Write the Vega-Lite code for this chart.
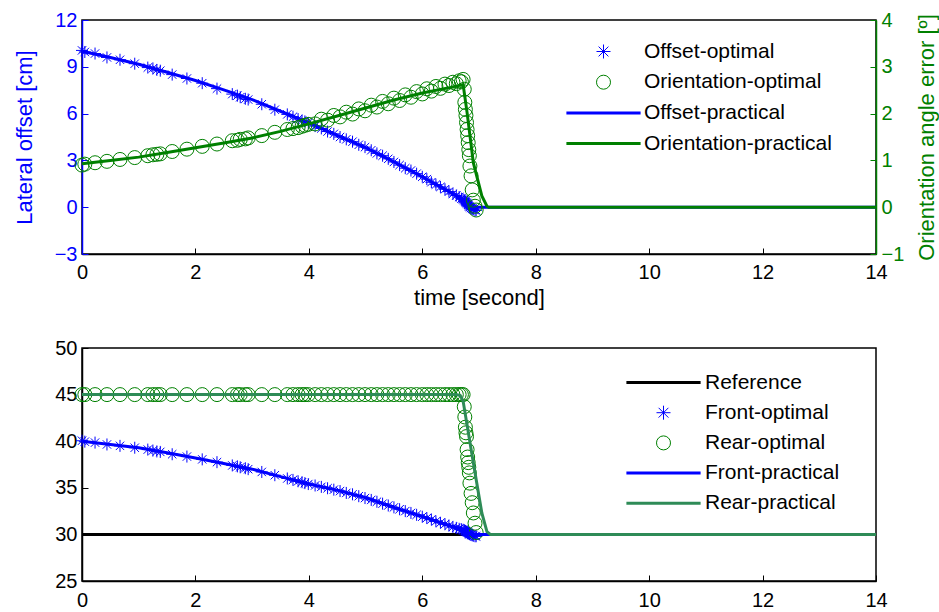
{
  "$schema": "https://vega.github.io/schema/vega-lite/v6.json",
  "padding": {"left": 12, "top": 9, "right": 0, "bottom": 0},
  "spacing": 28,
  "datasets": {
    "opt": [
      {"t": 0, "off": 10.05, "ang": 0.9, "front": 40.05, "rear": 45},
      {"t": 0.05, "off": 9.95, "ang": 0.92, "front": 39.95, "rear": 45},
      {"t": 0.23, "off": 9.85, "ang": 0.95, "front": 39.85, "rear": 45},
      {"t": 0.44, "off": 9.6, "ang": 0.98, "front": 39.65, "rear": 45},
      {"t": 0.67, "off": 9.45, "ang": 1.02, "front": 39.5, "rear": 45},
      {"t": 0.93, "off": 9.2, "ang": 1.06, "front": 39.3, "rear": 45},
      {"t": 1.16, "off": 8.95, "ang": 1.1, "front": 39.1, "rear": 45},
      {"t": 1.25, "off": 8.9, "ang": 1.12, "front": 39.0, "rear": 45},
      {"t": 1.32, "off": 8.8, "ang": 1.13, "front": 38.9, "rear": 45},
      {"t": 1.38, "off": 8.75, "ang": 1.14, "front": 38.85, "rear": 45},
      {"t": 1.59, "off": 8.5, "ang": 1.19, "front": 38.6, "rear": 45},
      {"t": 1.85, "off": 8.25, "ang": 1.24, "front": 38.35, "rear": 45},
      {"t": 2.12, "off": 7.95, "ang": 1.3, "front": 38.05, "rear": 45},
      {"t": 2.38, "off": 7.6, "ang": 1.35, "front": 37.75, "rear": 45},
      {"t": 2.65, "off": 7.25, "ang": 1.42, "front": 37.4, "rear": 45},
      {"t": 2.74, "off": 7.15, "ang": 1.43, "front": 37.3, "rear": 45},
      {"t": 2.79, "off": 7.05, "ang": 1.45, "front": 37.2, "rear": 45},
      {"t": 2.88, "off": 6.95, "ang": 1.46, "front": 37.1, "rear": 45},
      {"t": 2.93, "off": 6.9, "ang": 1.48, "front": 37.0, "rear": 45},
      {"t": 3.17, "off": 6.6, "ang": 1.53, "front": 36.7, "rear": 45},
      {"t": 3.4, "off": 6.25, "ang": 1.6, "front": 36.35, "rear": 45},
      {"t": 3.62, "off": 5.95, "ang": 1.66, "front": 36.0, "rear": 45},
      {"t": 3.72, "off": 5.8, "ang": 1.68, "front": 35.85, "rear": 45},
      {"t": 3.81, "off": 5.65, "ang": 1.7, "front": 35.7, "rear": 45},
      {"t": 3.88, "off": 5.55, "ang": 1.73, "front": 35.6, "rear": 45},
      {"t": 3.93, "off": 5.5, "ang": 1.75, "front": 35.5, "rear": 45},
      {"t": 3.99, "off": 5.4, "ang": 1.77, "front": 35.4, "rear": 45},
      {"t": 4.11, "off": 5.2, "ang": 1.78, "front": 35.25, "rear": 45},
      {"t": 4.22, "off": 5.05, "ang": 1.88, "front": 35.1, "rear": 45},
      {"t": 4.33, "off": 4.85, "ang": 1.86, "front": 34.95, "rear": 45},
      {"t": 4.44, "off": 4.7, "ang": 1.96, "front": 34.8, "rear": 45},
      {"t": 4.55, "off": 4.5, "ang": 1.93, "front": 34.65, "rear": 45},
      {"t": 4.66, "off": 4.35, "ang": 2.03, "front": 34.45, "rear": 45},
      {"t": 4.77, "off": 4.2, "ang": 1.99, "front": 34.3, "rear": 45},
      {"t": 4.88, "off": 4.0, "ang": 2.1, "front": 34.1, "rear": 45},
      {"t": 4.99, "off": 3.85, "ang": 2.06, "front": 33.9, "rear": 45},
      {"t": 5.1, "off": 3.65, "ang": 2.18, "front": 33.7, "rear": 45},
      {"t": 5.2, "off": 3.45, "ang": 2.14, "front": 33.5, "rear": 45},
      {"t": 5.3, "off": 3.3, "ang": 2.26, "front": 33.3, "rear": 45},
      {"t": 5.4, "off": 3.1, "ang": 2.21, "front": 33.1, "rear": 45},
      {"t": 5.5, "off": 2.9, "ang": 2.33, "front": 32.9, "rear": 45},
      {"t": 5.6, "off": 2.7, "ang": 2.28, "front": 32.7, "rear": 45},
      {"t": 5.7, "off": 2.5, "ang": 2.4, "front": 32.5, "rear": 45},
      {"t": 5.8, "off": 2.35, "ang": 2.35, "front": 32.3, "rear": 45},
      {"t": 5.9, "off": 2.15, "ang": 2.47, "front": 32.1, "rear": 45},
      {"t": 6.0, "off": 1.95, "ang": 2.42, "front": 31.9, "rear": 45},
      {"t": 6.08, "off": 1.8, "ang": 2.53, "front": 31.75, "rear": 45},
      {"t": 6.16, "off": 1.6, "ang": 2.48, "front": 31.6, "rear": 45},
      {"t": 6.24, "off": 1.45, "ang": 2.58, "front": 31.4, "rear": 45},
      {"t": 6.32, "off": 1.3, "ang": 2.54, "front": 31.25, "rear": 45},
      {"t": 6.4, "off": 1.15, "ang": 2.63, "front": 31.1, "rear": 45},
      {"t": 6.47, "off": 1.0, "ang": 2.6, "front": 30.95, "rear": 45},
      {"t": 6.54, "off": 0.85, "ang": 2.67, "front": 30.8, "rear": 45},
      {"t": 6.6, "off": 0.75, "ang": 2.64, "front": 30.7, "rear": 45},
      {"t": 6.65, "off": 0.65, "ang": 2.7, "front": 30.6, "rear": 45},
      {"t": 6.69, "off": 0.55, "ang": 2.68, "front": 30.55, "rear": 45},
      {"t": 6.72, "off": 0.5, "ang": 2.73, "front": 30.5, "rear": 45},
      {"t": 6.74, "off": 0.45, "ang": 2.52, "front": 30.45, "rear": 43.7},
      {"t": 6.75, "off": 0.4, "ang": 2.24, "front": 30.4, "rear": 42.6},
      {"t": 6.76, "off": 0.36, "ang": 2.09, "front": 30.35, "rear": 41.5},
      {"t": 6.77, "off": 0.32, "ang": 1.96, "front": 30.3, "rear": 40.9},
      {"t": 6.78, "off": 0.28, "ang": 1.81, "front": 30.28, "rear": 40.5},
      {"t": 6.79, "off": 0.25, "ang": 1.66, "front": 30.25, "rear": 39.1},
      {"t": 6.8, "off": 0.2, "ang": 1.53, "front": 30.2, "rear": 38.3},
      {"t": 6.81, "off": 0.15, "ang": 1.38, "front": 30.15, "rear": 37.7},
      {"t": 6.82, "off": 0.1, "ang": 1.23, "front": 30.1, "rear": 37.2},
      {"t": 6.83, "off": 0.05, "ang": 1.1, "front": 30.05, "rear": 36.6},
      {"t": 6.84, "off": 0.0, "ang": 0.88, "front": 30.0, "rear": 35.5},
      {"t": 6.86, "off": -0.05, "ang": 0.67, "front": 29.95, "rear": 34.4},
      {"t": 6.88, "off": -0.1, "ang": 0.37, "front": 29.9, "rear": 33.4},
      {"t": 6.9, "off": -0.15, "ang": 0.15, "front": 29.85, "rear": 32.3},
      {"t": 6.93, "off": -0.2, "ang": 0.02, "front": 29.8, "rear": 31.2},
      {"t": 6.95, "off": -0.2, "ang": -0.06, "front": 29.8, "rear": 30.2}
    ],
    "offP": [
      {"t": 0, "v": 10.0}, {"t": 0.5, "v": 9.6}, {"t": 1, "v": 9.16}, {"t": 1.5, "v": 8.65},
      {"t": 2, "v": 8.12}, {"t": 2.5, "v": 7.52}, {"t": 3, "v": 6.9}, {"t": 3.5, "v": 6.15},
      {"t": 4, "v": 5.4}, {"t": 4.5, "v": 4.6}, {"t": 5, "v": 3.82}, {"t": 5.5, "v": 2.9},
      {"t": 6, "v": 1.95}, {"t": 6.5, "v": 0.95}, {"t": 6.79, "v": 0.26}, {"t": 6.86, "v": 0},
      {"t": 14, "v": 0}
    ],
    "angP": [
      {"t": 0, "v": 0.93}, {"t": 0.5, "v": 1.0}, {"t": 1, "v": 1.07}, {"t": 1.5, "v": 1.17},
      {"t": 2, "v": 1.27}, {"t": 2.5, "v": 1.37}, {"t": 3, "v": 1.48}, {"t": 3.5, "v": 1.62},
      {"t": 4, "v": 1.78}, {"t": 4.5, "v": 1.95}, {"t": 5, "v": 2.12}, {"t": 5.5, "v": 2.29},
      {"t": 6, "v": 2.44}, {"t": 6.5, "v": 2.56}, {"t": 6.72, "v": 2.62}, {"t": 6.79, "v": 2.02},
      {"t": 6.9, "v": 0.95}, {"t": 7.05, "v": 0.24}, {"t": 7.14, "v": 0.02}, {"t": 7.17, "v": 0},
      {"t": 14, "v": 0}
    ],
    "frontP": [
      {"t": 0, "v": 40}, {"t": 0.5, "v": 39.65}, {"t": 1, "v": 39.3}, {"t": 1.5, "v": 38.75},
      {"t": 2, "v": 38.2}, {"t": 2.5, "v": 37.6}, {"t": 3, "v": 37.0}, {"t": 3.5, "v": 36.2},
      {"t": 4, "v": 35.4}, {"t": 4.5, "v": 34.75}, {"t": 5, "v": 33.95}, {"t": 5.5, "v": 32.9},
      {"t": 6, "v": 31.9}, {"t": 6.5, "v": 30.9}, {"t": 6.79, "v": 30.3}, {"t": 6.86, "v": 30},
      {"t": 14, "v": 30}
    ],
    "rearP": [
      {"t": 0, "v": 45}, {"t": 6.6, "v": 45}, {"t": 6.67, "v": 44.9}, {"t": 6.72, "v": 44.3},
      {"t": 6.9, "v": 37.7}, {"t": 7.05, "v": 32.3}, {"t": 7.14, "v": 30.3}, {"t": 7.2, "v": 30},
      {"t": 14, "v": 30}
    ],
    "refP": [{"t": 0, "v": 30}, {"t": 14, "v": 30}]
  },
  "vconcat": [
    {
      "width": 794,
      "height": 234,
      "layer": [
        {
          "encoding": {
            "x": {"field": "t", "type": "quantitative", "scale": {"domain": [0, 14], "nice": false},
              "axis": {"title": "time [second]", "values": [0, 2, 4, 6, 8, 10, 12, 14], "format": "d", "labelFlush": false, "tickSize": -6, "labelPadding": 14, "titlePadding": 5}},
            "y": {"field": "off", "type": "quantitative", "scale": {"domain": [-3, 12], "nice": false},
              "axis": {"title": "Lateral offset [cm]", "orient": "left", "values": [-3, 0, 3, 6, 9, 12], "labelColor": "#0000ff", "titleColor": "#0000ff", "domainColor": "#0000ff", "tickColor": "#0000ff", "tickSize": -6, "labelPadding": 11, "titlePadding": 18}}
          },
          "layer": [
            {
              "data": {"name": "opt"},
              "mark": {"type": "point", "filled": false, "size": 144, "strokeWidth": 1, "opacity": 1},
              "encoding": {
                "color": {"datum": "Offset-optimal",
                  "scale": {"domain": ["Offset-optimal", "Orientation-optimal", "Offset-practical", "Orientation-practical"], "range": ["#0000ff", "#008000", "#0000ff", "#008000"]},
                  "legend": {"title": null, "orient": "none", "legendX": 511, "legendY": 21, "labelOffset": 30, "rowPadding": 8.7, "symbolSize": 196, "labelFontSize": 21, "labelColor": "black", "labelLimit": 400,
                    "encode": {"symbols": {"update": {"strokeWidth": {"signal": "indexof(['Offset-practical','Orientation-practical'], datum.value) >= 0 ? 3 : 1"}, "fill": {"value": "transparent"}, "size": {"value": 196}}}}}},
                "shape": {"datum": "Offset-optimal",
                  "scale": {"domain": ["Offset-optimal", "Orientation-optimal", "Offset-practical", "Orientation-practical"], "range": ["M-1,0L1,0M0,-1L0,1M-0.7,-0.7L0.7,0.7M-0.7,0.7L0.7,-0.7", "circle", "M-5.3,0L5.3,0", "M-5.3,0L5.3,0"]},
                  "legend": {"title": null, "orient": "none", "legendX": 511, "legendY": 21, "labelOffset": 30, "rowPadding": 8.7, "symbolSize": 196, "labelFontSize": 21, "labelColor": "black", "labelLimit": 400,
                    "encode": {"symbols": {"update": {"strokeWidth": {"signal": "indexof(['Offset-practical','Orientation-practical'], datum.value) >= 0 ? 3 : 1"}, "fill": {"value": "transparent"}, "size": {"value": 196}}}}}}
              }
            },
            {
              "data": {"name": "offP"},
              "mark": {"type": "line", "strokeWidth": 3},
              "encoding": {
                "y": {"field": "v", "type": "quantitative"},
                "color": {"datum": "Offset-practical",
                  "legend": {"title": null, "orient": "none", "legendX": 511, "legendY": 21, "labelOffset": 30, "rowPadding": 8.7, "symbolSize": 196, "labelFontSize": 21, "labelColor": "black", "labelLimit": 400,
                    "encode": {"symbols": {"update": {"strokeWidth": {"signal": "indexof(['Offset-practical','Orientation-practical'], datum.value) >= 0 ? 3 : 1"}, "fill": {"value": "transparent"}, "size": {"value": 196}}}}}}
              }
            }
          ]
        },
        {
          "encoding": {
            "x": {"field": "t", "type": "quantitative", "scale": {"domain": [0, 14], "nice": false}},
            "y": {"field": "ang", "type": "quantitative", "scale": {"domain": [-1, 4], "nice": false},
              "axis": {"title": "Orientation angle error [º]", "orient": "right", "titleAngle": 270, "titleBaseline": "top", "values": [-1, 0, 1, 2, 3, 4], "labelColor": "#008000", "titleColor": "#008000", "domainColor": "#008000", "tickColor": "#008000", "tickSize": -6, "labelPadding": 11, "titlePadding": 13}}
          },
          "layer": [
            {
              "data": {"name": "opt"},
              "mark": {"type": "point", "filled": false, "size": 196, "strokeWidth": 1, "opacity": 1},
              "encoding": {
                "color": {"datum": "Orientation-optimal",
                  "legend": {"title": null, "orient": "none", "legendX": 511, "legendY": 21, "labelOffset": 30, "rowPadding": 8.7, "symbolSize": 196, "labelFontSize": 21, "labelColor": "black", "labelLimit": 400,
                    "encode": {"symbols": {"update": {"strokeWidth": {"signal": "indexof(['Offset-practical','Orientation-practical'], datum.value) >= 0 ? 3 : 1"}, "fill": {"value": "transparent"}, "size": {"value": 196}}}}}},
                "shape": {"datum": "Orientation-optimal"}
              }
            },
            {
              "data": {"name": "angP"},
              "mark": {"type": "line", "strokeWidth": 3},
              "encoding": {
                "y": {"field": "v", "type": "quantitative"},
                "color": {"datum": "Orientation-practical",
                  "legend": {"title": null, "orient": "none", "legendX": 511, "legendY": 21, "labelOffset": 30, "rowPadding": 8.7, "symbolSize": 196, "labelFontSize": 21, "labelColor": "black", "labelLimit": 400,
                    "encode": {"symbols": {"update": {"strokeWidth": {"signal": "indexof(['Offset-practical','Orientation-practical'], datum.value) >= 0 ? 3 : 1"}, "fill": {"value": "transparent"}, "size": {"value": 196}}}}}}
              }
            }
          ]
        }
      ],
      "resolve": {"scale": {"y": "independent"}}
    },
    {
      "width": 794,
      "height": 233,
      "encoding": {
        "x": {"field": "t", "type": "quantitative", "scale": {"domain": [0, 14], "nice": false},
          "axis": {"title": null, "values": [0, 2, 4, 6, 8, 10, 12, 14], "format": "d", "labelFlush": false, "tickSize": -6, "labelPadding": 15}},
        "y": {"type": "quantitative", "scale": {"domain": [25, 50], "nice": false},
          "axis": {"title": null, "values": [25, 30, 35, 40, 45, 50], "tickSize": -6, "labelPadding": 11}}
      },
      "layer": [
        {
          "data": {"name": "refP"},
          "mark": {"type": "line", "strokeWidth": 3},
          "encoding": {
            "y": {"field": "v", "type": "quantitative"},
            "color": {"datum": "Reference",
              "scale": {"domain": ["Reference", "Front-optimal", "Rear-optimal", "Front-practical", "Rear-practical"], "range": ["#000000", "#0000ff", "#008000", "#0000ff", "#2e8b57"]},
              "legend": {"title": null, "orient": "none", "legendX": 571, "legendY": 24, "labelOffset": 31, "rowPadding": 8.2, "symbolSize": 196, "labelFontSize": 21, "labelColor": "black", "labelLimit": 400,
                "encode": {"symbols": {"update": {"strokeWidth": {"signal": "indexof(['Reference','Front-practical','Rear-practical'], datum.value) >= 0 ? 3 : 1"}, "fill": {"value": "transparent"}, "size": {"value": 196}}}}}}
          }
        },
        {
          "data": {"name": "opt"},
          "mark": {"type": "point", "filled": false, "size": 144, "strokeWidth": 1, "opacity": 1},
          "encoding": {
            "y": {"field": "front", "type": "quantitative"},
            "color": {"datum": "Front-optimal"},
            "shape": {"datum": "Front-optimal",
              "scale": {"domain": ["Reference", "Front-optimal", "Rear-optimal", "Front-practical", "Rear-practical"], "range": ["M-5.3,0L5.3,0", "M-1,0L1,0M0,-1L0,1M-0.7,-0.7L0.7,0.7M-0.7,0.7L0.7,-0.7", "circle", "M-5.3,0L5.3,0", "M-5.3,0L5.3,0"]}}
          }
        },
        {
          "data": {"name": "opt"},
          "mark": {"type": "point", "filled": false, "size": 196, "strokeWidth": 1, "opacity": 1},
          "encoding": {
            "y": {"field": "rear", "type": "quantitative"},
            "color": {"datum": "Rear-optimal"},
            "shape": {"datum": "Rear-optimal"}
          }
        },
        {
          "data": {"name": "frontP"},
          "mark": {"type": "line", "strokeWidth": 3},
          "encoding": {
            "y": {"field": "v", "type": "quantitative"},
            "color": {"datum": "Front-practical"}
          }
        },
        {
          "data": {"name": "rearP"},
          "mark": {"type": "line", "strokeWidth": 3},
          "encoding": {
            "y": {"field": "v", "type": "quantitative"},
            "color": {"datum": "Rear-practical"}
          }
        }
      ]
    }
  ],
  "resolve": {"scale": {"color": "independent", "shape": "independent"}},
  "config": {
    "font": "Liberation Sans",
    "view": {"stroke": "black", "strokeWidth": 1.5},
    "axis": {"grid": false, "labelFontSize": 20, "titleFontSize": 22, "titleFontWeight": "normal", "labelColor": "black", "titleColor": "black", "domainColor": "black", "tickColor": "black", "domainWidth": 1.5, "labelFont": "Liberation Sans", "titleFont": "Liberation Sans"},
    "legend": {"labelFont": "Liberation Sans"}
  }
}
